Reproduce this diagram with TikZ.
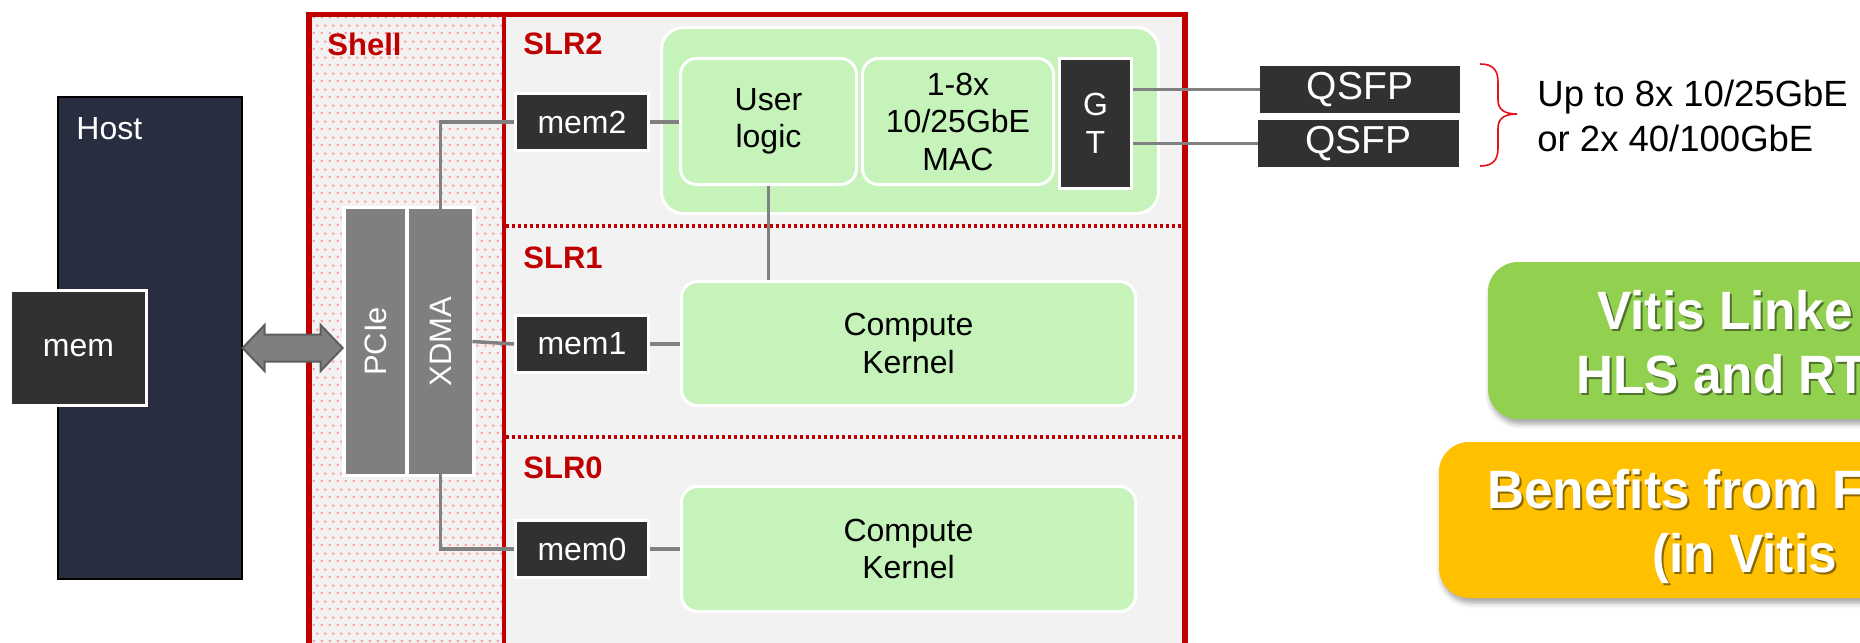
\documentclass[tikz,border=0pt]{standalone}
\usepackage{fontspec}
\setmainfont{Liberation Sans}
\newfontfamily\calloutfont{Liberation Sans}[FakeStretch=0.95]
\usetikzlibrary{calc,patterns,shadows.blur}

\definecolor{xred}{HTML}{C00000}
\definecolor{bracered}{HTML}{E8101A}
\definecolor{hostnavy}{HTML}{282D40}
\definecolor{chipgray}{HTML}{F2F2F2}
\definecolor{dotpink}{HTML}{FF8F8F}
\definecolor{darkfill}{HTML}{313131}
\definecolor{blockgray}{HTML}{7F7F7F}
\definecolor{wiregray}{HTML}{808080}
\definecolor{arrowedge}{HTML}{5E5E5E}
\definecolor{logicgreen}{HTML}{C5F3BA}
\definecolor{vitisgreen}{HTML}{92D050}
\definecolor{benefitorange}{HTML}{FFC000}

\newcommand{\pxfont}[2]{\fontsize{#1pt}{#2pt}\selectfont}

% staggered dot fill of the shell region
\pgfdeclarepatternformonly{shelldots}{\pgfqpoint{0pt}{0pt}}{\pgfqpoint{4pt}{8pt}}{\pgfqpoint{4pt}{8pt}}{%
  \pgfpathrectangle{\pgfqpoint{0.5pt}{0.5pt}}{\pgfqpoint{1pt}{1pt}}%
  \pgfpathrectangle{\pgfqpoint{2.5pt}{4.5pt}}{\pgfqpoint{1pt}{1pt}}%
  \pgfusepath{fill}}

\tikzset{
  darkbox/.style={fill=darkfill, draw=white, line width=1.5pt, text=white,
    inner sep=0pt, align=center, font=\pxfont{16}{19}},
  greenbox/.style={fill=logicgreen, draw=white, line width=1.5pt, rounded corners=8pt,
    inner sep=0pt, align=center, font=\pxfont{16}{18.75}},
  blockbox/.style={fill=blockgray, inner sep=0pt, text=white, font=\pxfont{15.5}{18}},
  wire/.style={draw=wiregray, line width=1.75pt},
  regionlabel/.style={text=xred, font=\pxfont{15.5}{18}\bfseries, anchor=base west, inner sep=0pt},
  slrsep/.style={draw=xred, line width=2pt, dash pattern=on 1.5pt off 1.5pt},
  callout/.style={rounded corners=15pt, inner sep=0pt,
    blur shadow={shadow xshift=1pt, shadow yshift=-2.5pt, shadow blur radius=2.5pt, shadow opacity=35}},
  callouttext/.style={anchor=base west, inner sep=0pt, text=white,
    font=\calloutfont\bfseries\pxfont{27}{32}},
  calloutshade/.style={callouttext, text=black, opacity=0.45},
}

\begin{document}
\begin{tikzpicture}[x=0.5pt, y=-0.5pt]
\path[use as bounding box] (0,0) rectangle (1860,643);
\clip (0,0) rectangle (1860,643);

% ---------------- host ----------------
\node[fill=hostnavy, draw=black, line width=0.6pt, minimum width=92pt, minimum height=241pt, inner sep=0pt] (host) at (150,338) {};
\node[text=white, anchor=base west, inner sep=0pt, font=\pxfont{16}{19}] (hostlbl) at (76,139) {Host};
\node[darkbox, minimum width=68pt, minimum height=57.5pt] (hmem) at (78.5,348) {mem};

% ---------------- card: shell + SLRs ----------------
\fill[chipgray] (309,14.5) rectangle (1185,700);
\fill[pattern=shelldots, pattern color=dotpink] (311.5,17) rectangle (502.5,700);
\draw[xred, line width=1.6pt] (504,14.5) -- (504,700);
\draw[xred, line width=2.75pt] (309,700) |- (1185,14.5) -- (1185,700);
\draw[slrsep] (505.5,226) -- (1182.5,226);
\draw[slrsep] (505.5,437) -- (1182.5,437);

\node[regionlabel] (shelllbl) at (327,55) {Shell};
\node[regionlabel] (slr2lbl) at (523,54) {SLR2};
\node[regionlabel] (slr1lbl) at (523,268) {SLR1};
\node[regionlabel] (slr0lbl) at (523,478) {SLR0};

% PCIe / XDMA column
\node[fill=white, minimum width=67pt, minimum height=135.5pt, inner sep=0pt] (pcigrp) at (409,341.5) {};
\node[blockbox, minimum width=29.5pt, minimum height=132.5pt] (pcie) at (375.5,341.5) {\rotatebox{90}{PCIe}};
\node[blockbox, minimum width=31.5pt, minimum height=132.5pt] (xdma) at (440.5,341.5) {\rotatebox{90}{XDMA}};

% host <-> PCIe link
\draw[fill=blockgray, draw=arrowedge, line width=1pt, line join=miter]
  (host.east |- hmem) -- ++(22,-23) -- ++(0,9.5) -- ++(56,0) -- ++(0,-9.5) -- ++(22,23)
  -- ++(-22,23) -- ++(0,-9.5) -- ++(-56,0) -- ++(0,9.5) -- cycle;

% memory banks
\node[darkbox, minimum width=66.5pt, minimum height=28.5pt] (mem2) at (582,122) {mem2};
\node[darkbox, minimum width=66.5pt, minimum height=28.5pt] (mem1) at (582,344) {mem1};
\node[darkbox, minimum width=66.5pt, minimum height=28.5pt] (mem0) at (582,549) {mem0};

% SLR2 network block
\node[greenbox, rounded corners=11pt, minimum width=248.5pt, minimum height=93pt] (slr2blk) at (910,120.5) {};
\node[greenbox, minimum width=88pt, minimum height=63pt] (user) at (768.5,121.5) {User\\logic};
\node[greenbox, minimum width=95.5pt, minimum height=63pt] (mac) at (958,121.5) {1-8x\\10/25GbE\\MAC};
\node[darkbox, minimum width=36pt, minimum height=65pt] (gt) at (1095.5,123.5) {G\\T};

% compute kernels
\node[greenbox, minimum width=227pt, minimum height=62pt] (ck1) at (908.5,343.5) {Compute\\Kernel};
\node[greenbox, minimum width=227pt, minimum height=62.5pt] (ck0) at (908.5,549) {Compute\\Kernel};

% QSFP cages
\node[fill=darkfill, text=white, inner sep=0pt, minimum width=100pt, minimum height=23.5pt, font=\pxfont{19.5}{23}] (qsfp1) at (1360,89.5) {QSFP};
\node[fill=darkfill, text=white, inner sep=0pt, minimum width=100.5pt, minimum height=23.5pt, font=\pxfont{19.5}{23}] (qsfp2) at (1358.5,143.5) {QSFP};

% wiring
\draw[wire] (xdma.north) |- (mem2.west);
\draw[wire] (xdma.south) |- (mem0.west);
\draw[wire] (xdma.east) -- (mem1.west);
\draw[wire] (mem2.east) -- (mem2.east -| user.west);
\draw[wire] (user.south) -- (user.south |- ck1.north);
\draw[wire] (mem1.east) -- (mem1.east -| ck1.west);
\draw[wire] (mem0.east) -- (mem0.east -| ck0.west);
\draw[wire] (gt.east |- qsfp1.west) -- (qsfp1.west);
\draw[wire] (gt.east |- qsfp2.west) -- (qsfp2.west);

% brace and port note
\draw[bracered, line width=0.8pt]
  (1480,64) .. controls (1493,64) and (1498,70) .. (1498,82) -- (1498,100)
  .. controls (1498,110) and (1505,114) .. (1517,114)
  .. controls (1505,114) and (1498,118) .. (1498,128) -- (1498,148)
  .. controls (1498,160) and (1493,166) .. (1480,166);
\node[anchor=base west, inner sep=0pt, font=\pxfont{18.25}{22}] (rate1) at (1537,106) {Up to 8x 10/25GbE};
\node[anchor=base west, inner sep=0pt, font=\pxfont{18.25}{22}] (rate2) at (1537,151) {or 2x 40/100GbE};

% callouts
\node[callout, fill=vitisgreen, minimum width=236pt, minimum height=78.5pt] (linkbox) at (1724,340.5) {};
\node[callout, fill=benefitorange, minimum width=260.5pt, minimum height=78pt] (benefitbox) at (1699.5,520) {};

\node[calloutshade] (linkAs) at (1599,331) {Vitis Linke};
\node[callouttext] (linkA) at (1597,329) {Vitis Linke};
\node[calloutshade] (linkBs) at (1578,395) {HLS and RT};
\node[callouttext] (linkB) at (1576,393) {HLS and RT};
\node[calloutshade] (benAs) at (1489,510) {Benefits from F};
\node[callouttext] (benA) at (1487,508) {Benefits from F};
\node[calloutshade] (benBs) at (1654,574) {(in Vitis};
\node[callouttext] (benB) at (1652,572) {(in Vitis};
\end{tikzpicture}
\end{document}
